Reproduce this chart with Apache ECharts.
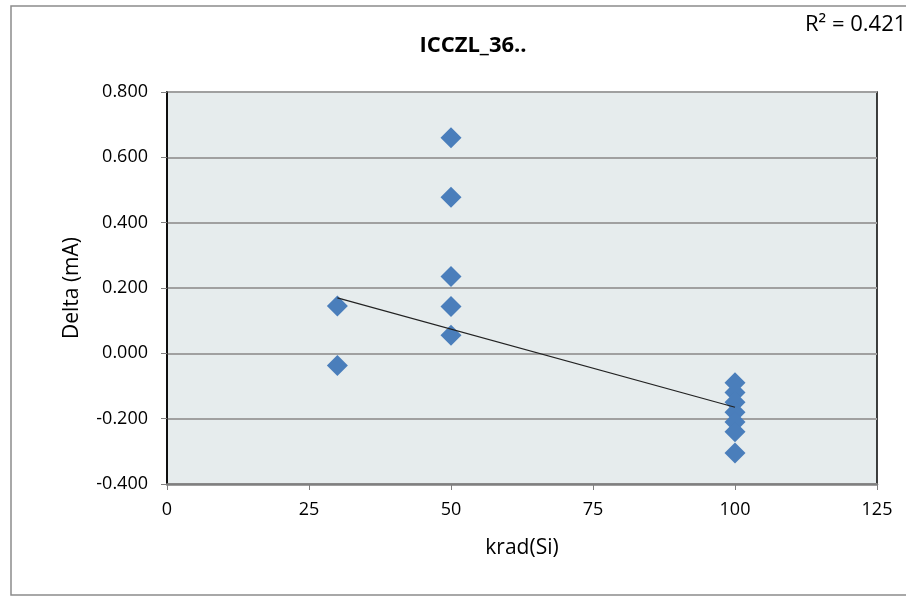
<!DOCTYPE html>
<html>
<head>
<meta charset="utf-8">
<script src="https://cdn.jsdelivr.net/npm/echarts@6/dist/echarts.min.js"></script>
<style>
  html, body { margin: 0; padding: 0; background: #fff; }
  #chart { width: 906px; height: 597px; }
</style>
</head>
<body>
<div id="chart"></div>
<script>
// Dose levels and measured deltas
const doseX = [30, 30, 50, 50, 50, 50, 50, 100, 100, 100, 100, 100, 100, 100];
const deltaY = [0.145, -0.037, 0.660, 0.478, 0.235, 0.143, 0.055,
  -0.090, -0.120, -0.150, -0.180, -0.210, -0.240, -0.305];

// Trend line endpoints as drawn
const trendX = [30, 100];
const trendY = [0.170, -0.165];

const xTicks = [0, 25, 50, 75, 100, 125];
const yTicks = [-0.4, -0.2, 0, 0.2, 0.4, 0.6, 0.8];

const chart = echarts.init(document.getElementById("chart"));
const font = "'Open Sans', 'Noto Sans', sans-serif";

chart.setOption({
  animation: false,
  backgroundColor: "#fff",
  textStyle: { fontFamily: font },
  title: {
    text: "ICCZL_36..",
    left: 468,
    top: 30,
    textAlign: "center",
    textStyle: { fontFamily: font, fontSize: 22, fontWeight: "bold", color: "#000" },
  },
  graphic: [
    {
      type: "rect",
      shape: { x: 11, y: 6, width: 1000, height: 589 },
      style: { fill: "none", stroke: "#8c8c8c", lineWidth: 1.5 },
      z: -1,
    },
    {
      type: "text",
      left: 805,
      top: 14,
      style: { text: "R² = 0.4213", font: "22px " + font, fill: "#000" },
    },
  ],
  grid: {
    left: 167, right: 29, top: 92, bottom: 113,
    show: true,
    backgroundColor: "#e6eced",
    borderColor: "#000",
    borderWidth: 1.5,
  },
  xAxis: {
    type: "value",
    min: xTicks[0],
    max: xTicks[xTicks.length - 1],
    interval: 25,
    name: "krad(Si)",
    nameLocation: "middle",
    nameGap: 54,
    nameTextStyle: { fontFamily: font, fontSize: 21, color: "#000" },
    axisLine: { show: true, onZero: false, lineStyle: { color: "#7f7f7f", width: 2.5 } },
    axisTick: { show: true, length: 6, lineStyle: { color: "#7f7f7f" } },
    axisLabel: { fontFamily: font, fontSize: 18, color: "#000", margin: 17 },
    splitLine: { show: false },
  },
  yAxis: {
    type: "value",
    min: yTicks[0],
    max: yTicks[yTicks.length - 1],
    interval: 0.2,
    name: "Delta (mA)",
    nameLocation: "middle",
    nameGap: 84,
    nameTextStyle: { fontFamily: font, fontSize: 21, color: "#000" },
    axisLine: { show: true, onZero: false, lineStyle: { color: "#000", width: 1.5 } },
    axisTick: { show: true, length: 6, lineStyle: { color: "#7f7f7f" } },
    axisLabel: {
      fontFamily: font, fontSize: 18, color: "#000", margin: 19,
      formatter: (v) => v.toFixed(3),
    },
    splitLine: { show: true, lineStyle: { color: "#a0a0a0", width: 2 } },
  },
  series: [
    {
      type: "scatter",
      data: doseX.map((x, i) => [x, deltaY[i]]),
      symbol: "diamond",
      symbolSize: 21,
      itemStyle: { color: "#4a7ebb", opacity: 1 },
      z: 2,
    },
    {
      type: "line",
      data: trendX.map((x, i) => [x, trendY[i]]),
      showSymbol: false,
      lineStyle: { color: "#222", width: 1.2 },
      z: 3,
    },
  ],
});
</script>
</body>
</html>
